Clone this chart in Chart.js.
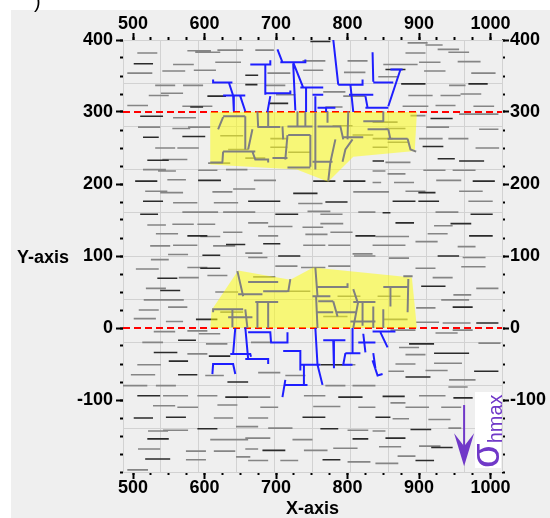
<!DOCTYPE html>
<html>
<head>
<meta charset="utf-8">
<script src="https://cdn.jsdelivr.net/npm/chart.js@4.4.1/dist/chart.umd.min.js"></script>
<style>
    html, body { margin: 0; padding: 0; background: #fff; }
    #wrap { position: relative; width: 550px; height: 518px; overflow: hidden; }
    #panel { position: absolute; left: 11px; top: 10px; right: 0; bottom: 0; background: #efefef; }
    #chart { position: absolute; left: 0; top: 0; }
    .lbl { position: absolute; font-family: "Liberation Sans", Arial, sans-serif; font-weight: bold; font-size: 18px; line-height: 18px; color: #000; white-space: nowrap; }
    #yTitle { left: 17px; top: 248px; }
    #corner { left: 34px; top: -8px; font-size: 20px; font-weight: normal; }
    #sigmaBox { position: absolute; left: 475px; top: 392px; width: 26px; height: 76px; background: #fff; }
    #sigmaText { position: absolute; left: -25px; top: 25px; width: 76px; height: 26px; line-height: 26px; transform: rotate(-90deg); font-family: "Liberation Sans", Arial, sans-serif; color: #7038c8; white-space: nowrap; }
    #sigmaText .sg { font-size: 40px; position: relative; top: -3px; }
    #sigmaText .sub { font-size: 20px; position: relative; top: 0px; }
</style>
</head>
<body>
<div id="wrap">
    <div id="panel"></div>
    <canvas id="chart" width="550" height="518"></canvas>
    <div class="lbl" id="corner">)</div>
    <div class="lbl" id="yTitle">Y-axis</div>
    <div id="sigmaBox"><div id="sigmaText"><span class="sg">σ</span><span class="sub">hmax</span></div></div>
</div>
<script>
// axis ranges and labelled ticks
const xMin = 486, xMax = 1016;
const yMin = -200, yMax = 400;
const xTicks = [500, 600, 700, 800, 900, 1000];
const yTicks = [-100, 0, 100, 200, 300, 400];

// dashed reference levels
const refLevels = [300, 0];

// yellow stimulated zones, polygon corners [x, y]
const upperZone = [[608, 300], [897, 300], [894, 246], [808, 238], [773, 203], [729, 220], [608, 227]];
const lowerZone = [[608, 0], [610, 25], [647, 80], [720, 67], [752, 84], [890, 70], [897, 0]];

// stress arrow: x, start y, tip y
const arrowX = 963, arrowFrom = -107, arrowTo = -192;

// natural fractures, [xStart, xEnd, y]
const dashesDark = [
    [501,528,367],[604,630,322],[580,598,307],[510,542,294],[514,536,265],[569,601,266],[520,550,233],[503,534,204],[591,623,205],[514,542,176],[510,535,158],[576,604,128],[630,657,116],
    [748,776,398],[657,675,351],[657,674,338],[689,717,312],[752,783,204],[794,825,204],[724,758,187],[661,706,176],[769,800,175],[699,731,158],[811,839,128],[682,706,117],
    [853,881,359],[875,909,339],[969,996,339],[916,947,291],[905,934,252],[926,950,235],[956,991,232],[835,851,232],[975,1006,204],[899,923,188],[863,895,176],[899,928,176],[849,860,160],[972,1003,158],[867,893,146],[944,973,145],[970,1003,128],
    [597,622,101],[594,622,83],[534,562,69],[538,566,52],[588,618,12],[563,588,-17],[529,562,-34],[606,636,-39],[550,577,-46],[563,590,-65],[632,661,-75],[506,538,-94],[629,661,-96],[501,528,-125],[546,574,-124],[590,618,-140],[520,550,-154],[517,552,-182],
    [703,734,100],[762,793,-51],[787,821,-96],[737,769,-124],[762,787,-140],[807,829,-154],[681,713,-170],[765,790,-183],
    [926,956,100],[903,937,58],[947,975,29],[980,1011,7],[886,921,-22],[921,970,-35],[977,1011,-60],[881,916,-68],[849,880,-95],[948,975,-97],[839,860,-124],[888,917,-141],[853,881,-153],[917,947,-166],[895,921,-184]
];
const dashesGray = [
    [506,534,382],[576,609,385],[587,622,383],[618,654,386],[556,585,366],[615,651,369],[492,527,354],[541,573,357],[585,616,358],[531,559,337],[570,598,337],[522,550,323],[539,570,326],[492,521,309],[569,611,308],[556,588,292],[507,538,279],[555,580,277],[577,608,279],[531,559,250],[562,592,250],[541,576,234],[514,546,220],[535,560,218],[591,618,219],[630,660,220],[548,574,206],[517,548,190],[538,570,188],[611,639,189],[640,664,193],[556,590,174],[613,647,174],[569,619,161],[626,664,161],[520,546,143],[555,585,144],[590,615,144],[532,563,131],[594,622,127],[626,653,133],[524,552,114],[556,590,115],[612,643,114],[549,577,102],
    [671,697,386],[737,769,371],[738,766,358],[688,720,354],[685,713,337],[800,828,371],[795,825,355],[700,727,324],[766,797,328],[769,793,307],[794,825,322],[669,700,205],[657,671,193],[808,839,189],[731,765,173],[657,671,161],[744,776,162],[762,793,158],[815,839,161],[661,689,146],[689,723,141],[737,766,140],[762,794,145],[675,703,128],[741,772,130],[776,807,133],[738,769,115],[773,804,115],[807,835,103],[657,681,104],
    [884,912,396],[909,933,393],[926,956,387],[941,970,383],[881,909,382],[900,930,369],[954,986,370],[850,898,366],[907,937,357],[973,1007,354],[843,870,349],[942,965,337],[885,919,323],[930,958,323],[958,987,325],[877,913,308],[923,951,309],[976,1005,308],[888,909,295],[956,984,297],[984,1011,297],[910,942,279],[984,1011,276],[900,933,263],[941,969,263],[979,1012,250],[853,888,230],[906,937,219],[947,979,219],[835,853,218],[856,881,214],[924,959,205],[865,893,202],[835,847,202],[881,909,190],[956,989,190],[835,858,189],[969,1003,176],[923,955,161],[921,947,142],[839,886,127],[912,940,131],[835,881,115],[895,926,120],[954,979,113],
    [525,550,95],[504,536,82],[576,604,84],[564,592,70],[604,632,73],[518,546,55],[515,571,39],[508,536,25],[549,576,29],[501,532,13],[546,570,9],[529,559,-5],[576,604,-4],[592,622,-8],[513,542,-20],[602,632,-22],[576,604,-36],[506,539,-51],[497,531,-65],[601,627,-66],[486,520,-80],[532,560,-80],[542,577,-94],[590,618,-94],[528,559,-108],[562,591,-110],[618,646,-107],[613,640,-125],[644,664,-137],[521,549,-143],[542,577,-142],[608,639,-155],[636,661,-155],[507,538,-168],[574,602,-171],[613,643,-171],[574,602,-183],[644,664,-179],[492,521,-197],
    [809,839,100],[699,730,86],[735,769,84],[773,804,86],[661,688,98],[665,693,-20],[675,706,-62],[713,741,-66],[783,811,-51],[661,692,-96],[739,769,-94],[769,797,-80],[807,839,-80],[678,703,-110],[752,790,-109],[815,839,-110],[661,689,-125],[657,675,-137],[689,723,-139],[800,829,-142],[657,692,-153],[723,751,-155],[657,675,-168],[739,772,-170],[780,814,-167],[661,689,-184],[706,731,-184],[800,832,-186],
    [858,886,97],[961,993,98],[895,923,83],[959,993,85],[919,947,70],[980,1011,55],[948,973,46],[931,970,39],[896,923,28],[933,972,7],[896,928,8],[860,895,-3],[923,954,-7],[947,975,-3],[983,1014,-21],[872,900,-27],[881,909,-37],[921,960,-49],[867,895,-50],[857,879,-60],[909,940,-59],[941,968,-82],[942,979,-72],[900,937,-94],[860,881,-104],[881,914,-110],[931,959,-110],[863,886,-126],[913,944,-127],[835,853,-143],[941,959,-139],[844,875,-165],[900,930,-164],[870,895,-178],[839,871,-188],
    [622,654,267],[633,661,248],[605,636,229],[692,717,263],[692,716,251],[717,748,244],[657,685,236],[779,807,281],[807,836,268],[835,870,286],[853,881,277],[835,863,263],[856,886,258],[835,856,251],
    [615,647,50],[716,748,51],[786,818,44],[622,654,22],[842,874,44],[766,800,16],[850,884,12],[668,699,71]
];

// hydraulic fractures outside the zones (blue) and inside them (gray), as polylines
const upperBlue = [
    [[612,345],[612,341],[639,341]], [[634,341],[640,323]], [[626,323],[657,323]], [[640,323],[641,301]], [[650,322],[657,301]],
    [[664,366],[692,366],[692,372]], [[685,366],[685,324]], [[685,326],[720,326],[720,330]], [[692,322],[688,300]],
    [[702,387],[709,369]], [[706,369],[741,369],[741,373]], [[724,369],[738,334]], [[734,334],[766,334]], [[742,334],[742,300]],
    [[724,367],[727,302]], [[751,324],[766,324]], [[755,322],[755,300]], [[758,306],[783,306]], [[770,306],[770,300]],
    [[780,401],[787,338]], [[787,338],[821,338],[821,345]], [[804,338],[808,300]], [[802,324],[836,324]],
    [[835,383],[836,342]], [[836,341],[864,341]], [[874,359],[857,308]], [[860,359],[877,359]], [[825,306],[857,306]], [[825,322],[828,306]]
];
const upperGray = [
    [[626,294],[657,294]], [[657,294],[657,248]], [[626,293],[619,276]], [[674,301],[675,279]], [[674,279],[706,279]],
    [[689,301],[689,279]], [[667,276],[661,248]], [[709,280],[710,262]], [[626,245],[671,245]], [[626,245],[625,230]],
    [[608,230],[626,230]], [[667,245],[671,234],[689,234],[689,230]], [[730,301],[730,280]], [[716,280],[751,280]],
    [[741,301],[741,280]], [[755,299],[755,220]], [[758,280],[790,280],[794,262]], [[772,301],[772,285]],
    [[783,262],[776,230],[773,204]], [[751,231],[779,231]], [[801,301],[800,262]], [[793,265],[822,265]],
    [[807,262],[797,248],[793,231]], [[828,276],[857,276]], [[850,301],[850,286]], [[822,287],[850,287]],
    [[857,276],[860,262]], [[856,263],[884,263]], [[884,263],[888,248],[896,245]],
    [[717,268],[748,268]], [[748,268],[748,224]], [[716,223],[748,223]], [[716,268],[713,234]], [[695,236],[716,236]]
];
const lowerGray = [
    [[646,79],[654,44]], [[647,47],[681,47]], [[671,36],[703,36]], [[612,22],[612,26],[654,26]], [[639,26],[639,1]],
    [[657,26],[660,0]], [[633,15],[667,15]], [[674,36],[674,0]], [[689,36],[689,0]], [[682,51],[716,51]],
    [[720,68],[717,50]], [[661,64],[703,64]], [[755,84],[758,44]], [[758,57],[800,57],[800,62]], [[751,44],[776,44]],
    [[756,44],[758,0]], [[759,37],[780,37]], [[780,37],[786,16]], [[758,22],[780,22]], [[808,54],[814,36]],
    [[808,36],[839,36]], [[815,37],[808,0]], [[804,9],[839,9]], [[836,30],[836,0]], [[850,26],[850,0]],
    [[850,57],[884,57]], [[860,57],[860,30]], [[885,68],[884,22]], [[878,72],[891,72]], [[783,22],[811,22]], [[821,37],[821,3]]
];
const lowerBlue = [
    [[643,0],[640,-36]], [[636,-36],[664,-36],[665,-40]], [[657,1],[660,-32],[661,-43]], [[657,-43],[689,-43],[689,-50]],
    [[611,-64],[612,-50],[640,-50],[643,-64]], [[661,-6],[692,-6],[693,-20]], [[692,-20],[716,-20],[716,-6]],
    [[755,0],[758,-51]], [[710,-32],[734,-32],[734,-59]], [[734,-51],[762,-51]], [[739,-51],[739,-79]], [[758,-51],[765,-79]],
    [[713,-72],[709,-96]], [[713,-79],[744,-79]], [[766,-17],[797,-17]], [[780,-17],[781,-56]], [[807,0],[807,-35]],
    [[797,-35],[818,-35]], [[797,-35],[794,-51],[807,-51]], [[815,-20],[839,-20]], [[836,-35],[839,-56]], [[822,-8],[825,-34]],
    [[835,-5],[867,-5]], [[846,-6],[856,-27]], [[835,-45],[842,-66],[849,-64]]
];

const purple = "#7038c8";
const tickFont = { family: "'Liberation Sans', Arial, sans-serif", weight: "bold", size: 18, lineHeight: 1 };

function polyData(lines) {
    const pts = [];
    lines.forEach((line) => {
        line.forEach(([x, y]) => pts.push({ x: x, y: y }));
        pts.push({ x: null, y: null });
    });
    return pts;
}

function dashData(list) {
    return polyData(list.map(([x1, x2, y]) => [[x1, y], [x2, y]]));
}

function lineSet(data, color, width, order, extra) {
    return Object.assign({
        data: data,
        showLine: true,
        borderColor: color,
        borderWidth: width,
        pointRadius: 0,
        spanGaps: false,
        order: order,
        xAxisID: "x",
        yAxisID: "y",
    }, extra || {});
}

function majorX(position, size) {
    return {
        type: "linear",
        position: position,
        min: xMin,
        max: xMax,
        weight: 1,
        afterBuildTicks: (s) => { s.ticks = xTicks.map((v) => ({ value: v })); },
        afterFit: (s) => { s.height = size; },
        grid: { drawOnChartArea: false, tickLength: 7, tickWidth: 2, tickColor: "#000" },
        border: { display: false },
        ticks: { font: tickFont, color: "#000", padding: 0, maxRotation: 0, autoSkip: false, callback: (v) => String(v) },
    };
}

function majorY(position, size, pad) {
    return {
        type: "linear",
        position: position,
        min: yMin,
        max: yMax,
        weight: 1,
        afterBuildTicks: (s) => { s.ticks = yTicks.map((v) => ({ value: v })); },
        afterFit: (s) => { s.width = size; },
        grid: { drawOnChartArea: false, tickLength: 7, tickWidth: 2, tickColor: "#000" },
        border: { display: false },
        ticks: { font: tickFont, color: "#000", padding: pad, autoSkip: false, callback: (v) => String(v) },
    };
}

function minorAxis(position, min, max) {
    const horizontal = position === "top" || position === "bottom";
    return {
        type: "linear",
        position: position,
        min: min,
        max: max,
        weight: 0,
        afterFit: (s) => { if (horizontal) s.height = 0; else s.width = 0; },
        grid: { drawOnChartArea: false, tickLength: 3, tickWidth: 2, tickColor: "#000" },
        border: { display: false },
        ticks: { display: false, stepSize: 25, includeBounds: false },
    };
}

function gridAxis(position) {
    const horizontal = position === "bottom";
    return {
        type: "linear",
        position: position,
        min: 0,
        max: 10,
        weight: -1,
        afterFit: (s) => { if (horizontal) s.height = 0; else s.width = 0; },
        grid: { color: "#d2d2d2", lineWidth: 1, drawTicks: false },
        border: { display: false },
        ticks: { display: false, stepSize: 1 },
    };
}

const arrowPlugin = {
    id: "stressArrow",
    afterDatasetsDraw(chart) {
        const { ctx } = chart;
        const x = chart.scales.x.getPixelForValue(arrowX);
        const y0 = chart.scales.y.getPixelForValue(arrowFrom);
        const y1 = chart.scales.y.getPixelForValue(arrowTo);
        ctx.save();
        ctx.strokeStyle = purple;
        ctx.fillStyle = purple;
        ctx.lineWidth = 2;
        ctx.beginPath();
        ctx.moveTo(x, y0);
        ctx.lineTo(x, y1 - 18);
        ctx.stroke();
        ctx.beginPath();
        ctx.moveTo(x, y1);
        ctx.lineTo(x - 10, y1 - 33);
        ctx.lineTo(x, y1 - 20);
        ctx.lineTo(x + 10, y1 - 33);
        ctx.closePath();
        ctx.fill();
        ctx.restore();
    },
};

const refLines = refLevels.map((v) => [[xMin, v], [xMax, v]]);

const bottomAxis = majorX("bottom", 46);
bottomAxis.title = { display: true, text: "X-axis", font: tickFont, color: "#000", padding: { top: 0, bottom: 0 } };

new Chart(document.getElementById("chart"), {
    type: "scatter",
    data: {
        datasets: [
            lineSet(dashData(dashesGray), "#858585", 1.6, 7),
            lineSet(dashData(dashesDark), "#2b2b2b", 1.6, 6),
            lineSet(polyData(refLines), "#ff0000", 2, 5, { borderDash: [7, 4] }),
            lineSet(polyData([upperZone]), "rgba(0,0,0,0)", 0, 4, { fill: "shape", backgroundColor: "rgba(255,255,0,0.5)" }),
            lineSet(polyData([lowerZone]), "rgba(0,0,0,0)", 0, 4, { fill: "shape", backgroundColor: "rgba(255,255,0,0.5)" }),
            lineSet(polyData(upperGray), "#808080", 2, 3),
            lineSet(polyData(lowerGray), "#808080", 2, 3),
            lineSet(polyData(upperBlue), "#1e1eff", 2, 2),
            lineSet(polyData(lowerBlue), "#1e1eff", 2, 2),
        ],
    },
    options: {
        responsive: false,
        animation: false,
        events: [],
        layout: { padding: 0 },
        plugins: { legend: { display: false }, tooltip: { enabled: false } },
        scales: {
            x: bottomAxis,
            y: majorY("left", 123, 3),
            xTop: majorX("top", 40),
            yRight: majorY("right", 48, 1),
            xMinorB: minorAxis("bottom", xMin, xMax),
            xMinorT: minorAxis("top", xMin, xMax),
            yMinorL: minorAxis("left", yMin, yMax),
            yMinorR: minorAxis("right", yMin, yMax),
            xGrid: gridAxis("bottom"),
            yGrid: gridAxis("left"),
        },
    },
    plugins: [arrowPlugin],
});
</script>
</body>
</html>
